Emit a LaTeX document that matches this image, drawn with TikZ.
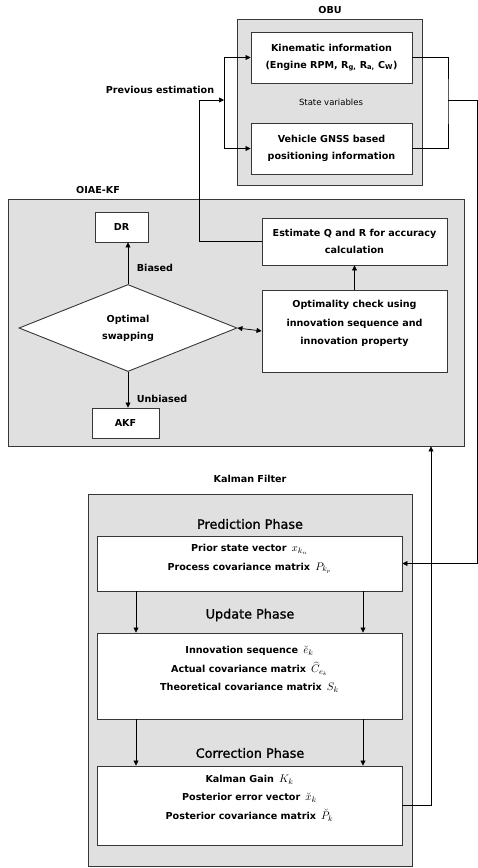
\documentclass[tikz,border=0pt]{standalone}
\usepackage{fontspec}
\setmainfont{DejaVu Sans}
\newfontfamily\semibfont[FakeBold=1.2]{DejaVu Sans}
\usetikzlibrary{arrows.meta,shapes.geometric}
\definecolor{panel}{RGB}{224,224,224}
\definecolor{edge}{RGB}{55,55,55}
\newcommand{\kfmath}[1]{{\fontsize{11}{18}\selectfont\,$#1$}}
\begin{document}
\begin{tikzpicture}[x=1pt,y=-1pt,
  panelbox/.style={draw=edge, fill=panel, line width=0.9pt, inner sep=0pt},
  whitebox/.style={draw=edge, fill=white, line width=0.9pt, inner sep=0pt, align=center, font=\bfseries\fontsize{9.6}{17}\selectfont},
  txt/.style={align=center, font=\bfseries\fontsize{9.6}{18.5}\selectfont},
  lbl/.style={font=\bfseries\fontsize{9.6}{11}\selectfont},
  phase/.style={font=\semibfont\fontsize{12.8}{15}\selectfont},
  conn/.style={draw=black, line width=0.7pt},
  arr/.style={conn, -{Triangle[length=5pt,width=5pt]}},
]
\useasboundingbox (0,0) rectangle (478,868);
\fill[white] (0,0) rectangle (478,868);

% OBU
\node[panelbox, minimum width=185pt, minimum height=166pt] (obu) at (329.5,102) {};
\node[lbl] (obulbl) at (330,10) {OBU};
\node[whitebox, minimum width=161pt, minimum height=51pt] (kin) at (331.5,57.5)
  {Kinematic information\\(Engine RPM, R\textsubscript{g,} R\textsubscript{a,} C\textsubscript{W})};
\node[font=\fontsize{8.5}{10}\selectfont] (sv) at (331,102) {State variables};
\node[whitebox, minimum width=161pt, minimum height=51pt] (gnss) at (331.5,148.5)
  {Vehicle GNSS based\\positioning information};

% OIAE-KF
\node[panelbox, minimum width=456pt, minimum height=247pt] (oiae) at (236,322.5) {};
\node[lbl] (oiaelbl) at (98,190) {OIAE-KF};
\node[whitebox, minimum width=53pt, minimum height=30pt] (dr) at (121.5,227) {DR};
\node[draw=edge, fill=white, line width=0.9pt, diamond, inner sep=0pt,
  minimum width=218pt, minimum height=87pt, align=center,
  font=\bfseries\fontsize{9.6}{17}\selectfont] (dia) at (128,328) {Optimal\\swapping};
\node[whitebox, minimum width=185pt, minimum height=47pt] (estq) at (354.5,241.5)
  {Estimate Q and R for accuracy\\calculation};
\node[whitebox, minimum width=185pt, minimum height=82pt] (opt) at (354.5,331) {};
\node[txt] (opttxt) at (354.5,323.5)
  {Optimality check using\\innovation sequence and\\innovation property};
\node[whitebox, minimum width=67pt, minimum height=30pt] (akf) at (125.5,423) {AKF};
\node[lbl] (biased) at (155,268) {Biased};
\node[lbl] (unbiased) at (162,399) {Unbiased};
\node[lbl] (prev) at (160,90) {Previous estimation};

% Kalman filter
\node[lbl] (kflbl) at (250,479) {Kalman Filter};
\node[panelbox, minimum width=324pt, minimum height=372pt] (kf) at (250,680) {};
\node[phase] (predph) at (250,524) {Prediction Phase};
\node[whitebox, minimum width=305pt, minimum height=55pt] (pred) at (249.5,563.5) {};
\node[txt] (predtxt) at (249.5,559) {Prior state vector \kfmath{x_{k_n}}\\Process covariance matrix \kfmath{P_{k_p}}};
\node[phase] (updph) at (250,615) {Update Phase};
\node[whitebox, minimum width=305pt, minimum height=86pt] (upd) at (249.5,676) {};
\node[txt] (updtxt) at (249.5,669.5) {Innovation sequence \kfmath{\breve{e}_k}\\Actual covariance matrix \kfmath{\widehat{C}_{e_k}}\\Theoretical covariance matrix \kfmath{S_k}};
\node[phase] (corrph) at (250,753) {Correction Phase};
\node[whitebox, minimum width=305pt, minimum height=79pt] (corr) at (249.5,805.5) {};
\node[txt] (corrtxt) at (249.5,798) {Kalman Gain \kfmath{K_k}\\Posterior error vector \kfmath{\breve{x}_k}\\Posterior covariance matrix \kfmath{\breve{P}_k}};

% connectors
\coordinate (lj) at (224,100);
\coordinate (lc) at (199,100);
\coordinate (rj) at (448,100);
\coordinate (rc) at (477,100);
\coordinate (fbx) at (431,807);
\draw[conn] (lj |- kin.west) -- (lj |- gnss.west);
\draw[arr] (lj |- kin.west) -- (kin.west);
\draw[arr] (lj |- gnss.west) -- (gnss.west);
\draw[arr] (estq.west) -| (lc) -- (lj);
\draw[conn] (kin.east) -| (rj) |- (gnss.east);
\draw[arr] (rj) -- (rc) |- (pred.east);
\draw[arr] (opt.north) -- (estq.south);
\draw[conn, {Triangle[length=5pt,width=5pt]}-{Triangle[length=5pt,width=5pt]}] (dia.east) -- (opt.west);
\draw[arr] (dia.north) -- (dia.north |- dr.south);
\draw[arr] (dia.south) -- (dia.south |- akf.north);
\draw[arr] (pred.south -| 136,0) -- (upd.north -| 136,0);
\draw[arr] (pred.south -| 363,0) -- (upd.north -| 363,0);
\draw[arr] (upd.south -| 136,0) -- (corr.north -| 136,0);
\draw[arr] (upd.south -| 363,0) -- (corr.north -| 363,0);
\draw[arr] (corr.east) -| (oiae.south -| fbx);
\end{tikzpicture}
\end{document}
